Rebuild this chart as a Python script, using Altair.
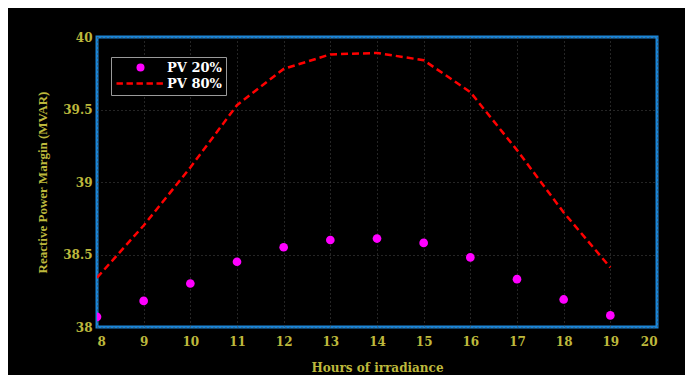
import altair as alt
import pandas as pd

hours = [8, 9, 10, 11, 12, 13, 14, 15, 16, 17, 18, 19]
pv20 = [38.07, 38.18, 38.30, 38.45, 38.55, 38.60, 38.61, 38.58, 38.48, 38.33, 38.19, 38.08]
pv80 = [38.34, 38.70, 39.10, 39.53, 39.78, 39.88, 39.89, 39.84, 39.62, 39.22, 38.79, 38.41]
series_names = ["PV 20%", "PV 80%"]
x_ticks = list(range(8, 21))
y_ticks = [38, 38.5, 39, 39.5, 40]

df20 = pd.DataFrame({"hour": hours, "value": pv20, "series": series_names[0]})
df80 = pd.DataFrame({"hour": hours, "value": pv80, "series": series_names[1]})

OLIVE = "#bdb83c"

# dashed horizontal bar symbol (for legend of the dashed line)
dash_path = ("M-6,-0.3h1.6v0.6h-1.6Z M-3.5,-0.3h1.6v0.6h-1.6Z M-1,-0.3h1.6v0.6h-1.6Z "
             "M1.5,-0.3h1.6v0.6h-1.6Z M4,-0.3h1.6v0.6h-1.6Z")

color_scale = alt.Scale(domain=series_names, range=["#ff00ff", "#ff0000"])
shape_scale = alt.Scale(domain=series_names, range=["circle", dash_path])

x_enc = alt.X("hour:Q", scale=alt.Scale(domain=[8, 20], nice=False),
              axis=alt.Axis(values=x_ticks, format="d", title="Hours of irradiance",
                            labelPadding=9, titlePadding=15))
y_enc = alt.Y("value:Q", scale=alt.Scale(domain=[38, 40], nice=False, zero=False),
              axis=alt.Axis(values=y_ticks, format="~g", title="Reactive Power Margin (MVAR)",
                            labelPadding=5, titlePadding=13,
                            titleFont="Liberation Serif", titleFontSize=13))

legend = alt.Legend(title=None, orient="none", legendX=14, legendY=20)

points = alt.Chart(df20).mark_point(filled=True, size=75, opacity=1, clip=True).encode(
    x=x_enc, y=y_enc,
    color=alt.Color("series:N", scale=color_scale, legend=legend),
    shape=alt.Shape("series:N", scale=shape_scale, legend=legend),
)

line = alt.Chart(df80).mark_line(strokeDash=[7, 4], strokeWidth=2.5, clip=True).encode(
    x=x_enc, y=y_enc,
    color=alt.Color("series:N", scale=color_scale, legend=legend),
)

chart = alt.layer(points, line).properties(
    width=560, height=290,
    autosize=alt.AutoSizeParams(type="none"),
    padding={"left": 89, "top": 29, "right": 28, "bottom": 48},
    background="black",
).configure_view(
    fill="black", stroke="#1a84d6", strokeWidth=3,
).configure_axis(
    domain=False, ticks=False, grid=True,
    gridColor="#4a4a4a", gridDash=[1, 3], gridWidth=1,
    labelColor=OLIVE, labelFont="DejaVu Serif", labelFontWeight="bold", labelFontSize=12,
    titleColor=OLIVE, titleFont="DejaVu Serif", titleFontWeight="bold", titleFontSize=12,
).configure_legend(
    fillColor="black", strokeColor="#9a9a9a", padding=4,
    labelColor="white", labelFont="DejaVu Serif", labelFontWeight="bold", labelFontSize=13,
    symbolSize=64, symbolStrokeWidth=0, symbolOffset=19, labelOffset=20,
    rowPadding=2,
)

chart.save("out.html", embed_options={"renderer": "svg", "actions": False})
